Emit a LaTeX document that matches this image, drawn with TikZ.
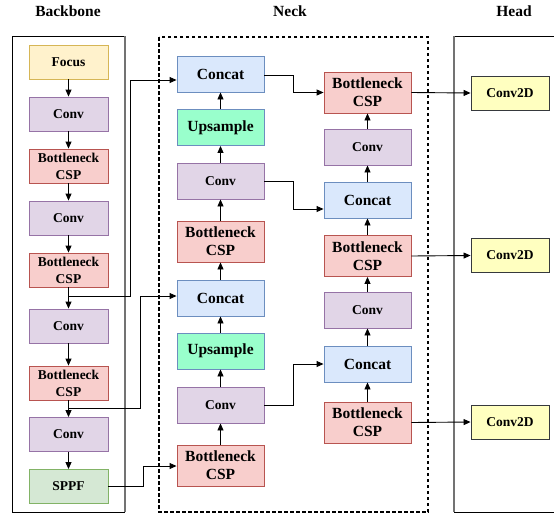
\documentclass[tikz,border=0pt]{standalone}
\usepackage{fontspec}
\setmainfont{Liberation Serif}
\usetikzlibrary{arrows.meta,calc}
\definecolor{focusF}{HTML}{FFF2CC}\definecolor{focusD}{HTML}{D6B656}
\definecolor{convF}{HTML}{E1D5E7}\definecolor{convD}{HTML}{9673A6}
\definecolor{bcspF}{HTML}{F8CECC}\definecolor{bcspD}{HTML}{B85450}
\definecolor{catF}{HTML}{DAE8FC}\definecolor{catD}{HTML}{6C8EBF}
\definecolor{upF}{HTML}{99FFCC}
\definecolor{spF}{HTML}{D5E8D4}\definecolor{spD}{HTML}{82B366}
\definecolor{c2dF}{HTML}{FFFFC0}\definecolor{c2dD}{HTML}{36393D}
\begin{document}
\begin{tikzpicture}[x=1pt,y=-1pt,
  box/.style={draw, line width=0.9pt, inner sep=0pt, align=center, font=\bfseries\fontsize{13.5}{17}\selectfont},
  big/.style={font=\bfseries\fontsize{15.5}{18}\selectfont},
  bb/.style={box, minimum width=79pt, minimum height=34pt},
  nk/.style={box, minimum width=87pt, minimum height=36pt},
  focusbox/.style={bb, fill=focusF, draw=focusD},
  convb/.style={bb, fill=convF, draw=convD},
  bcspb/.style={bb, fill=bcspF, draw=bcspD},
  sppfbox/.style={bb, fill=spF, draw=spD},
  convn/.style={nk, fill=convF, draw=convD},
  bcspn/.style={nk, big, minimum height=41pt, fill=bcspF, draw=bcspD},
  catn/.style={nk, big, fill=catF, draw=catD},
  upn/.style={nk, big, fill=upF, draw=catD},
  c2d/.style={box, minimum width=78pt, minimum height=34pt, fill=c2dF, draw=c2dD},
  title/.style={font=\bfseries\fontsize{15.5}{18}\selectfont},
  arr/.style={draw=black, line width=0.9pt, -{Triangle[length=7pt,width=6pt]}},
  ln/.style={draw=black, line width=0.9pt}
]
\useasboundingbox (0,0) rectangle (554,514);
% frames
\draw[line width=1pt] (125,36) -- (12,36) -- (12,512) -- (125,512);
\draw[line width=1.2pt, draw=black!55] (125,36) -- (125,512);
\draw[line width=1.4pt, dashed, dash pattern=on 3.5pt off 2.5pt] (159,37) rectangle (428,512);
\draw[line width=1pt] (556,36) -- (454,36);
\draw[line width=1pt] (454,512) -- (556,512);
\draw[line width=1.2pt, draw=black!55] (454,36) -- (454,512);
% titles
\node[title] (tb) at (68,11) {Backbone};
\node[title] (tn) at (290,11) {Neck};
\node[title] (th) at (514,11) {Head};
% backbone
\node[focusbox] (b1) at (68.5,62) {Focus};
\node[convb] (b2) at (68.5,114) {Conv};
\node[bcspb] (b3) at (68.5,166) {Bottleneck\\CSP};
\node[convb] (b4) at (68.5,218) {Conv};
\node[bcspb] (b5) at (68.5,270) {Bottleneck\\CSP};
\node[convb] (b6) at (68.5,326) {Conv};
\node[bcspb] (b7) at (68.5,383) {Bottleneck\\CSP};
\node[convb] (b8) at (68.5,434.5) {Conv};
\node[sppfbox] (b9) at (68.5,486.5) {SPPF};
% neck column 1
\node[catn] (n1) at (220.5,74) {Concat};
\node[upn] (n2) at (220.5,127.5) {Upsample};
\node[convn] (n3) at (220.5,181) {Conv};
\node[bcspn] (n4) at (220.5,241.5) {Bottleneck\\CSP};
\node[catn] (n5) at (220.5,298) {Concat};
\node[upn] (n6) at (220.5,351) {Upsample};
\node[convn] (n7) at (220.5,405) {Conv};
\node[bcspn] (n8) at (220.5,465.5) {Bottleneck\\CSP};
% neck column 2
\node[bcspn] (m1) at (367.5,92.5) {Bottleneck\\CSP};
\node[convn] (m2) at (367.5,147) {Conv};
\node[catn] (m3) at (367.5,200) {Concat};
\node[bcspn] (m4) at (367.5,256) {Bottleneck\\CSP};
\node[convn] (m5) at (367.5,310) {Conv};
\node[catn] (m6) at (367.5,364) {Concat};
\node[bcspn] (m7) at (367.5,422.5) {Bottleneck\\CSP};
% head
\node[c2d] (h1) at (510,93) {Conv2D};
\node[c2d] (h2) at (510,255.5) {Conv2D};
\node[c2d] (h3) at (510,422) {Conv2D};
% backbone chain
\foreach \a/\b in {b1/b2,b2/b3,b3/b4,b4/b5,b5/b6,b6/b7,b7/b8,b8/b9}
  \draw[arr] (\a) -- (\b);
% neck chains
\foreach \a/\b in {n8/n7,n7/n6,n6/n5,n5/n4,n4/n3,n3/n2,n2/n1,m7/m6,m6/m5,m5/m4,m4/m3,m3/m2,m2/m1}
  \draw[arr] (\a) -- (\b);
% backbone -> neck
\coordinate (j1) at (68.5,296);
\coordinate (j2) at (68.5,408);
\draw[arr] (j1) -- (130,296) |- ($(n1.west)+(0,6)$);
\draw[arr] (j2) -- (140,408) |- ($(n5.west)+(0,-2)$);
\draw[arr] (b9.east) -- (143,486.5) |- ($(n8.west)+(0,0.5)$);
% neck col1 -> col2
\draw[arr] ($(n1.east)+(0,1)$) -- (293,75) |- (m1.west);
\draw[arr] (n3.east) -- (293,181) |- ($(m3.west)+(0,9)$);
\draw[arr] (n7.east) -- (293,405) |- (m6.west);
% neck -> head
\draw[arr] (m1.east) -- (h1.west);
\draw[arr] (m4.east) -- (h2.west);
\draw[arr] (m7.east) -- (h3.west);
\end{tikzpicture}
\end{document}
